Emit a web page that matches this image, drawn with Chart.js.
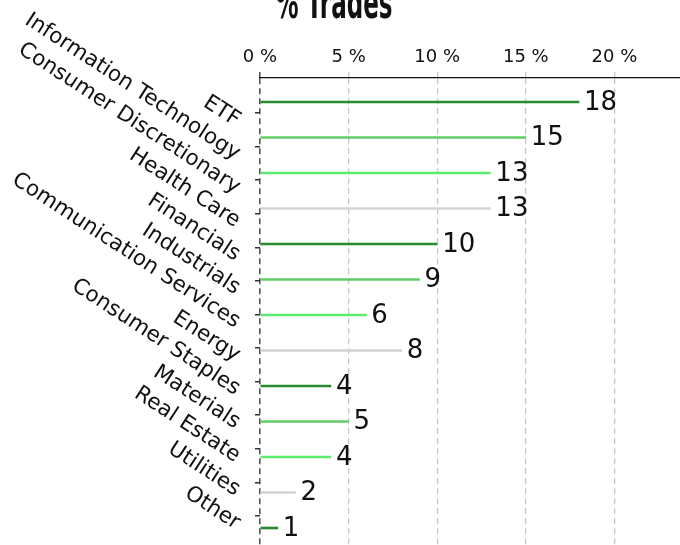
<!DOCTYPE html>
<html>
<head>
<meta charset="utf-8">
<title>% Trades</title>
<script src="https://cdn.jsdelivr.net/npm/chart.js@4"></script>
<style>
  html, body { margin: 0; padding: 0; background: #fff; }
  body { width: 680px; height: 545px; overflow: hidden; position: relative; }
  #chart { position: absolute; left: 0; top: 0; }
</style>
</head>
<body>
<canvas id="chart" width="703" height="560"></canvas>
<script>
// data
const categories = [
  'ETF', 'Information Technology', 'Consumer Discretionary', 'Health Care',
  'Financials', 'Industrials', 'Communication Services', 'Energy',
  'Consumer Staples', 'Materials', 'Real Estate', 'Utilities', 'Other'
];
const tradePct = [18, 15, 13, 13, 10, 9, 6, 8, 4, 5, 4, 2, 1];
const xTickStep = 5;
const chartTitle = '% Trades';

// bar colours cycle every 4 rows
const palette = ['#2a8a30', '#5fcc66', '#5deb6b', '#d3d3d3'];

const FONT = '"DejaVu Sans", sans-serif';

const valueLabels = {
  id: 'valueLabels',
  afterDatasetsDraw(chart) {
    const ctx = chart.ctx;
    const meta = chart.getDatasetMeta(0);
    ctx.save();
    ctx.font = '26px ' + FONT;
    ctx.fillStyle = '#111';
    ctx.textAlign = 'left';
    ctx.textBaseline = 'middle';
    meta.data.forEach((bar, i) => ctx.fillText(String(tradePct[i]), bar.x + 5, bar.y + 1));
    ctx.restore();
  }
};

// narrow heavy title, squeezed horizontally
const topTitle = {
  id: 'topTitle',
  afterDraw(chart) {
    const ctx = chart.ctx;
    ctx.save();
    ctx.font = 'bold 44px "DejaVu Sans", sans-serif';
    ctx.fillStyle = '#111';
    ctx.textAlign = 'center';
    ctx.textBaseline = 'alphabetic';
    const w = ctx.measureText(chartTitle).width;
    ctx.translate(334, 18);
    ctx.scale(117 / w, 1);
    ctx.fillText(chartTitle, 0, 0);
    ctx.restore();
  }
};

new Chart(document.getElementById('chart'), {
  type: 'bar',
  data: {
    datasets: [{
      data: tradePct.map((v, i) => ({ x: v, y: i })),
      xAxisID: 'x',
      yAxisID: 'yb',
      backgroundColor: tradePct.map((_, i) => palette[i % palette.length]),
      borderWidth: 0,
      barThickness: 2
    }]
  },
  options: {
    indexAxis: 'y',
    responsive: false,
    animation: false,
    events: [],
    layout: { padding: 0 },
    plugins: { legend: { display: false }, tooltip: { enabled: false } },
    scales: {
      x: {
        type: 'linear', position: 'top', min: 0, max: 25,
        ticks: {
          stepSize: xTickStep,
          callback: v => v + ' %',
          font: { family: FONT, size: 18 },
          color: '#111',
          padding: 4,
          maxRotation: 0
        },
        grid: {
          color: c => c.tick && c.tick.value === 0 ? '#555' : '#c8c8c8',
          tickColor: c => c.tick && c.tick.value === 0 ? '#555' : '#c8c8c8',
          lineWidth: c => c.tick && c.tick.value === 0 ? 1.6 : 1.3,
          tickLength: 6
        },
        border: { display: true, color: '#111', width: 1.3, dash: [6, 4] },
        afterFit: s => { s.height = 78; s.paddingLeft = 0; s.paddingRight = 0; }
      },
      // visible axis: ticks + rotated names
      y: {
        type: 'linear', position: 'left', reverse: true, offset: false,
        min: -1.042, max: 13.312,
        afterBuildTicks: s => { s.ticks = categories.map((c, i) => ({ value: i })); },
        ticks: {
          callback: v => categories[v],
          font: { family: FONT, size: 21.5 },
          color: '#111',
          minRotation: -33,
          padding: 17,
          labelOffset: 9,
          autoSkip: false
        },
        grid: { drawOnChartArea: false, offset: false, tickLength: 5, color: '#333', lineWidth: 1.5 },
        border: { display: false },
        afterFit: s => { s.width = 260; s.paddingTop = 0; s.paddingBottom = 0; }
      },
      // axis the bars sit on
      yb: {
        type: 'linear', display: false, reverse: true, offset: false,
        min: -0.676, max: 12.901
      }
    }
  },
  plugins: [valueLabels, topTitle]
});
</script>
</body>
</html>
